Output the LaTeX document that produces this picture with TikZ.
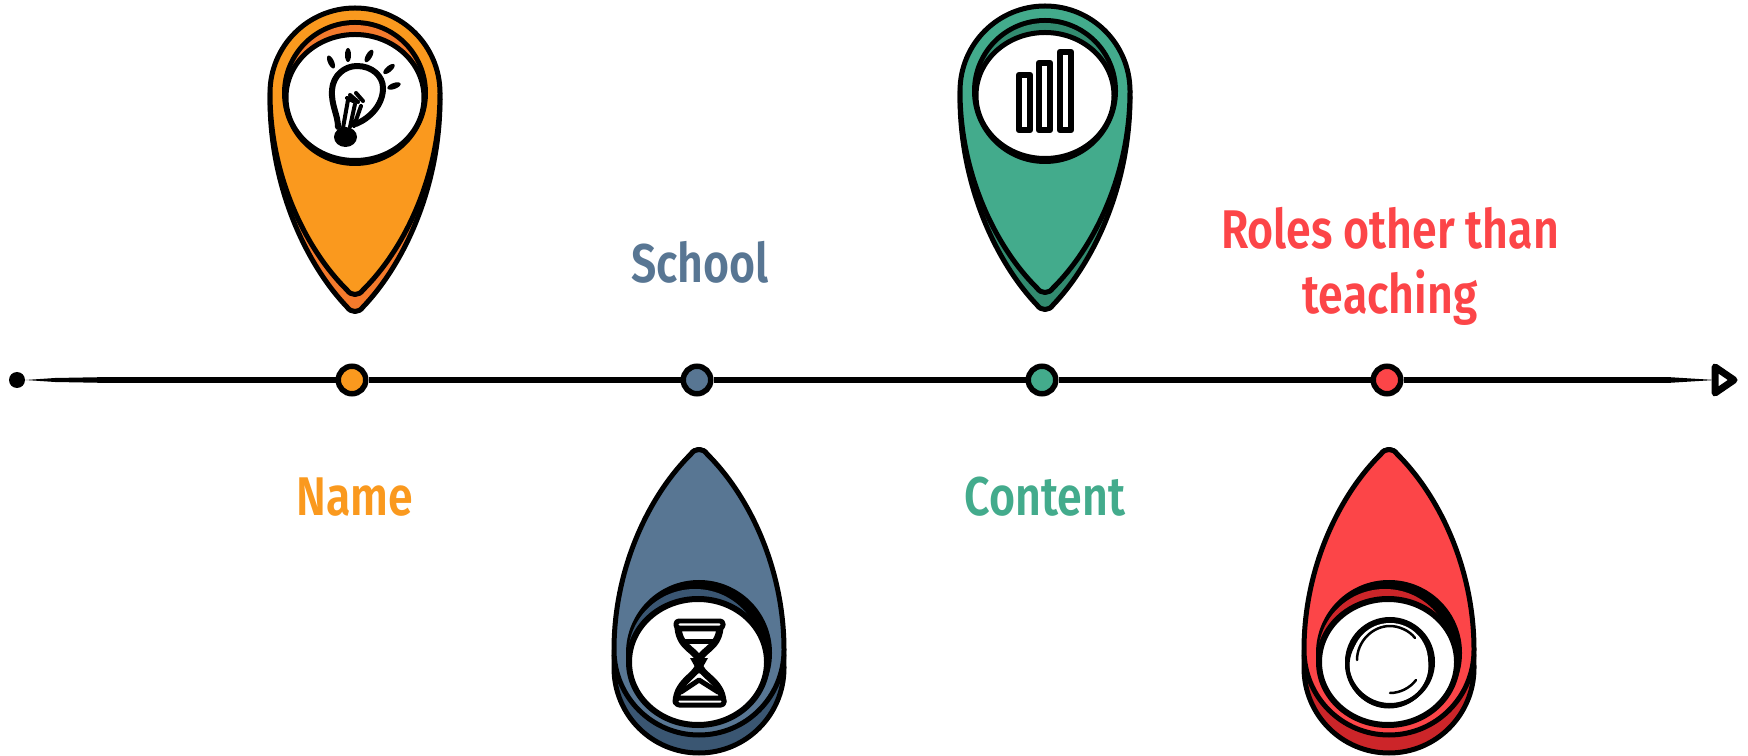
\documentclass[tikz,border=0pt]{standalone}
\usepackage{fontspec}
\setmainfont{Fira Sans}[BoldFont={Fira Sans SemiBold}]
\definecolor{pinOrange}{HTML}{FA991E}
\definecolor{pinOrangeDark}{HTML}{F47A2C}
\definecolor{pinBlue}{HTML}{587693}
\definecolor{pinBlueDark}{HTML}{3A5672}
\definecolor{pinGreen}{HTML}{43AB8C}
\definecolor{pinGreenDark}{HTML}{328B70}
\definecolor{pinRed}{HTML}{FC4548}
\definecolor{pinRedDark}{HTML}{CC2529}
% one unit of the picture is one pixel of the reference
\newcommand{\pinpath}[1]{(-85,0) .. controls (-85,-47) and (-47,-85) .. (0,-85) .. controls (47,-85) and (85,-47) .. (85,0) .. controls (85,0.42*#1) and (48,0.78*#1) .. (8,#1-5) .. controls (4,#1+1) and (-4,#1+1) .. (-8,#1-5) .. controls (-48,0.78*#1) and (-85,0.42*#1) .. (-85,0) -- cycle}
\tikzset{
    pinline/.style={draw=black,line width=0.1cm,line join=round},
    iconline/.style={draw=black,line width=0.09cm,line cap=round,line join=round},
    axisline/.style={draw=black,line width=0.11cm},
    axisdot/.style={circle,draw=black,line width=0.11cm,minimum size=0.55cm,inner sep=0pt},
    label/.style={font=\bfseries\fontsize{31}{37}\selectfont,align=center,inner sep=0pt,xscale=0.82}
}
\begin{document}
\begin{tikzpicture}[x=0.02cm,y=-0.02cm]
    \useasboundingbox (0,0) rectangle (1748,756);

    % pins hanging above the axis
    \foreach \cx/\cy/\main/\dark in {355/93/pinOrange/pinOrangeDark,1045/91/pinGreen/pinGreenDark}{
        \begin{scope}[shift={(\cx,\cy+6)}]
            \filldraw[pinline,fill=\dark] \pinpath{213};
        \end{scope}
        \begin{scope}[shift={(\cx,\cy)}]
            \filldraw[pinline,fill=\main] \pinpath{202};
            \fill[black] (0,0) circle (73);
            \fill[\dark] (0,0) circle (68);
            \filldraw[draw=black,line width=0.1cm,fill=white] (0,4.5) ellipse [x radius=69,y radius=63];
        \end{scope}
    }

    % pins standing below the axis
    \foreach \cx/\main/\dark in {699/pinBlue/pinBlueDark,1389/pinRed/pinRedDark}{
        \begin{scope}[shift={(\cx,668)},yscale=-1]
            \filldraw[pinline,fill=\dark] \pinpath{219};
        \end{scope}
        \begin{scope}[shift={(\cx,650)},yscale=-1]
            \filldraw[pinline,fill=\main] \pinpath{201};
        \end{scope}
        \begin{scope}[shift={(\cx,653)}]
            \fill[black] (0,0) circle (73);
            \fill[\dark] (-4,3) circle (67);
            \filldraw[draw=black,line width=0.12cm,fill=white] (-1,9) ellipse [x radius=69,y radius=63];
        \end{scope}
    }

    % bulb
    \draw[iconline,line width=0.12cm] (338,127) .. controls (338,115) and (331,105) .. (332,90) .. controls (333,75) and (345,66) .. (357,66) .. controls (372,66) and (383,76) .. (383,88) .. controls (383,105) and (370,118) .. (356,124);
    \fill[black] (345.5,137) ellipse [x radius=11.5,y radius=10];
    \draw[iconline,line width=0.08cm] (343,128) -- (348,100) (350,127) -- (355,104) (354,126) -- (361,106);
    \draw[iconline,line width=0.08cm] (347,98) -- (353,101) (350,95) -- (358,102) (356,93) -- (363,101);
    \foreach \rx/\ry/\ra in {331/62/-65,348/55/-90,369/56/-120,389/69/-140,394/86/-160}{
        \fill[black,rotate around={\ra:(\rx,\ry)}] (\rx,\ry) ellipse [x radius=7,y radius=3];
    }

    % bars
    \foreach \bx/\by in {1019/75,1039/63,1060/52}{
        \draw[iconline,line width=0.13cm,fill=white] (\bx,\by) rectangle (\bx+11,130);
    }

    % hourglass
    \filldraw[iconline,line width=0.14cm,fill=white] (678,628) .. controls (680,650) and (699,650) .. (699,663) .. controls (699,675) and (677,680) .. (676,702) -- (723,702) .. controls (722,680) and (699,675) .. (699,663) .. controls (699,650) and (718,650) .. (720,628) -- cycle;
    \draw[iconline,line width=0.1cm,fill=white,rounded corners=0.06cm] (676,621) rectangle (723,628);
    \draw[iconline,line width=0.1cm,fill=white,rounded corners=0.06cm] (676,698) rectangle (724,705);
    \draw[iconline,line width=0.1cm] (683,641) -- (716,641);
    \draw[iconline,line width=0.1cm] (681,692) -- (699,680) -- (718,692);
    \fill[black] (690,658) -- (708,658) -- (699,674) -- cycle;

    % ring
    \draw[draw=black,line width=0.08cm] (1390,662) circle (43);
    \draw[draw=black,line width=0.08cm] (1389,664) circle (42);
    \draw[draw=black,line width=0.06cm] (1389,666) circle (41);
    \fill[white] (1390,661) circle (38);
    \draw[iconline,line width=0.05cm] (1357,660) .. controls (1357,642) and (1372,626) .. (1390,626) .. controls (1398,626) and (1409,630) .. (1415,638);
    \draw[iconline,line width=0.05cm] (1390,693) .. controls (1400,693) and (1410,688) .. (1416,680);

    % axis
    \node[circle,fill=black,inner sep=0pt,minimum size=0.32cm] (startDot) at (17,380) {};
    \node[axisdot,fill=pinOrange] (nameDot) at (352,380) {};
    \node[axisdot,fill=pinBlue] (schoolDot) at (697,380) {};
    \node[axisdot,fill=pinGreen] (contentDot) at (1042,380) {};
    \node[axisdot,fill=pinRed] (rolesDot) at (1387,380) {};
    \coordinate (taperLeft) at (100,380);
    \coordinate (taperRight) at (1670,380);
    \coordinate (arrowEnd) at (1715,380);

    \fill[black] (startDot.east) -- (55,378) -- (100,377.2) -- (100,382.8) -- (55,382) -- cycle;
    \fill[black] (1670,377.2) -- (1670,382.8) -- (arrowEnd) -- cycle;
    \draw[axisline] (taperLeft) -- (nameDot);
    \draw[axisline] (nameDot) -- (schoolDot);
    \draw[axisline] (schoolDot) -- (contentDot);
    \draw[axisline] (contentDot) -- (rolesDot);
    \draw[axisline] (rolesDot) -- (taperRight);
    \filldraw[draw=black,fill=white,line width=0.14cm,line join=round] (1715,367) -- (1734,380) -- (1715,393) -- cycle;

    % labels
    \node[label,text=pinOrange] (nameLabel) at (355,497) {Name};
    \node[label,text=pinBlue] (schoolLabel) at (700,262) {School};
    \node[label,text=pinGreen] (contentLabel) at (1045,497) {Content};
    \node[label,text=pinRed] (rolesLabel) at (1390,266) {Roles other than\\teaching};
\end{tikzpicture}
\end{document}
